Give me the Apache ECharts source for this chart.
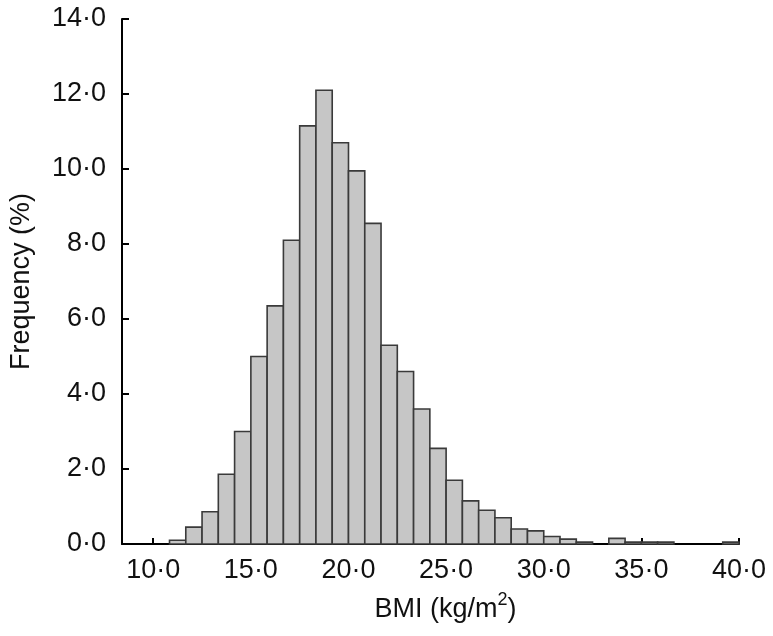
<!DOCTYPE html>
<html>
<head>
<meta charset="utf-8">
<script src="https://cdn.jsdelivr.net/npm/echarts@6/dist/echarts.min.js"></script>
<style>
html,body{margin:0;padding:0;background:#fff;}
#chart{width:773px;height:636px;}
</style>
</head>
<body>
<div id="chart"></div>
<script>
// Histogram bins: lower edge of each bin (BMI, kg/m2), bin width 5/6
const binLower = [10.8333, 11.6667, 12.5, 13.3333, 14.1667, 15, 15.8333, 16.6667, 17.5, 18.3333,
  19.1667, 20, 20.8333, 21.6667, 22.5, 23.3333, 24.1667, 25, 25.8333, 26.6667,
  27.5, 28.3333, 29.1667, 30, 30.8333, 31.6667, 32.5, 33.3333, 34.1667, 35,
  35.8333, 36.6667, 37.5, 38.3333, 39.1667];
const binWidth = 0.8333;
// Frequency (%)
const frequency = [0.10, 0.45, 0.86, 1.86, 3.00, 5.00, 6.35, 8.10, 11.15, 12.10,
  10.70, 9.95, 8.55, 5.30, 4.60, 3.60, 2.55, 1.70, 1.15, 0.90,
  0.70, 0.40, 0.35, 0.20, 0.13, 0.05, 0, 0.15, 0.05, 0.05,
  0.05, 0, 0, 0, 0.05];
const xTickValues = [10, 15, 20, 25, 30, 35, 40];
const yTitle = 'Frequency (%)';

const fmt = v => Number(v).toFixed(1).replace('.', '\u00B7');
const FONT = '"Liberation Sans", Arial, Helvetica, sans-serif';

const data = binLower.map((lo, i) => [lo, lo + binWidth, frequency[i]]);

const chart = echarts.init(document.getElementById('chart'), null, {renderer: 'canvas'});
chart.setOption({
  animation: false,
  backgroundColor: '#ffffff',
  grid: {left: 118, right: 34, top: 19, bottom: 92, containLabel: false},
  xAxis: {
    type: 'value',
    min: 8.4,
    max: 40,
    name: '{a|BMI (kg/m}{s|2}{a|)}',
    nameLocation: 'middle',
    nameGap: 47,
    nameTextStyle: {
      padding: [0, 0, 0, 30],
      rich: {
        a: {fontFamily: FONT, fontSize: 27, lineHeight: 32, color: '#111', verticalAlign: 'bottom'},
        s: {fontFamily: FONT, fontSize: 18, lineHeight: 18, color: '#111', verticalAlign: 'top'}
      }
    },
    axisLine: {show: true, onZero: false, lineStyle: {color: '#000', width: 2}},
    axisTick: {show: true, inside: true, length: 6, customValues: xTickValues, lineStyle: {color: '#000', width: 2}},
    axisLabel: {customValues: xTickValues, formatter: fmt, margin: 13, fontFamily: FONT, fontSize: 27, color: '#111'},
    splitLine: {show: false}
  },
  yAxis: {
    type: 'value',
    min: 0,
    max: 14,
    interval: 2,
    name: yTitle,
    nameLocation: 'middle',
    nameGap: 87,
    nameTextStyle: {fontFamily: FONT, fontSize: 27, color: '#111'},
    axisLine: {show: true, lineStyle: {color: '#000', width: 2}},
    axisTick: {show: true, inside: true, length: 7, lineStyle: {color: '#000', width: 2}},
    axisLabel: {formatter: fmt, margin: 16, fontFamily: FONT, fontSize: 27, color: '#111'},
    splitLine: {show: false}
  },
  series: [{
    type: 'custom',
    data: data,
    encode: {x: [0, 1], y: 2},
    renderItem: function (params, api) {
      const v = api.value(2);
      if (!v) return null;
      const p0 = api.coord([api.value(0), v]);
      const p1 = api.coord([api.value(1), 0]);
      return {
        type: 'rect',
        shape: {x: p0[0], y: p0[1], width: p1[0] - p0[0], height: p1[1] - p0[1]},
        style: {fill: '#c6c6c6', stroke: '#3a3a3a', lineWidth: 1.6}
      };
    }
  }]
});
</script>
</body>
</html>
